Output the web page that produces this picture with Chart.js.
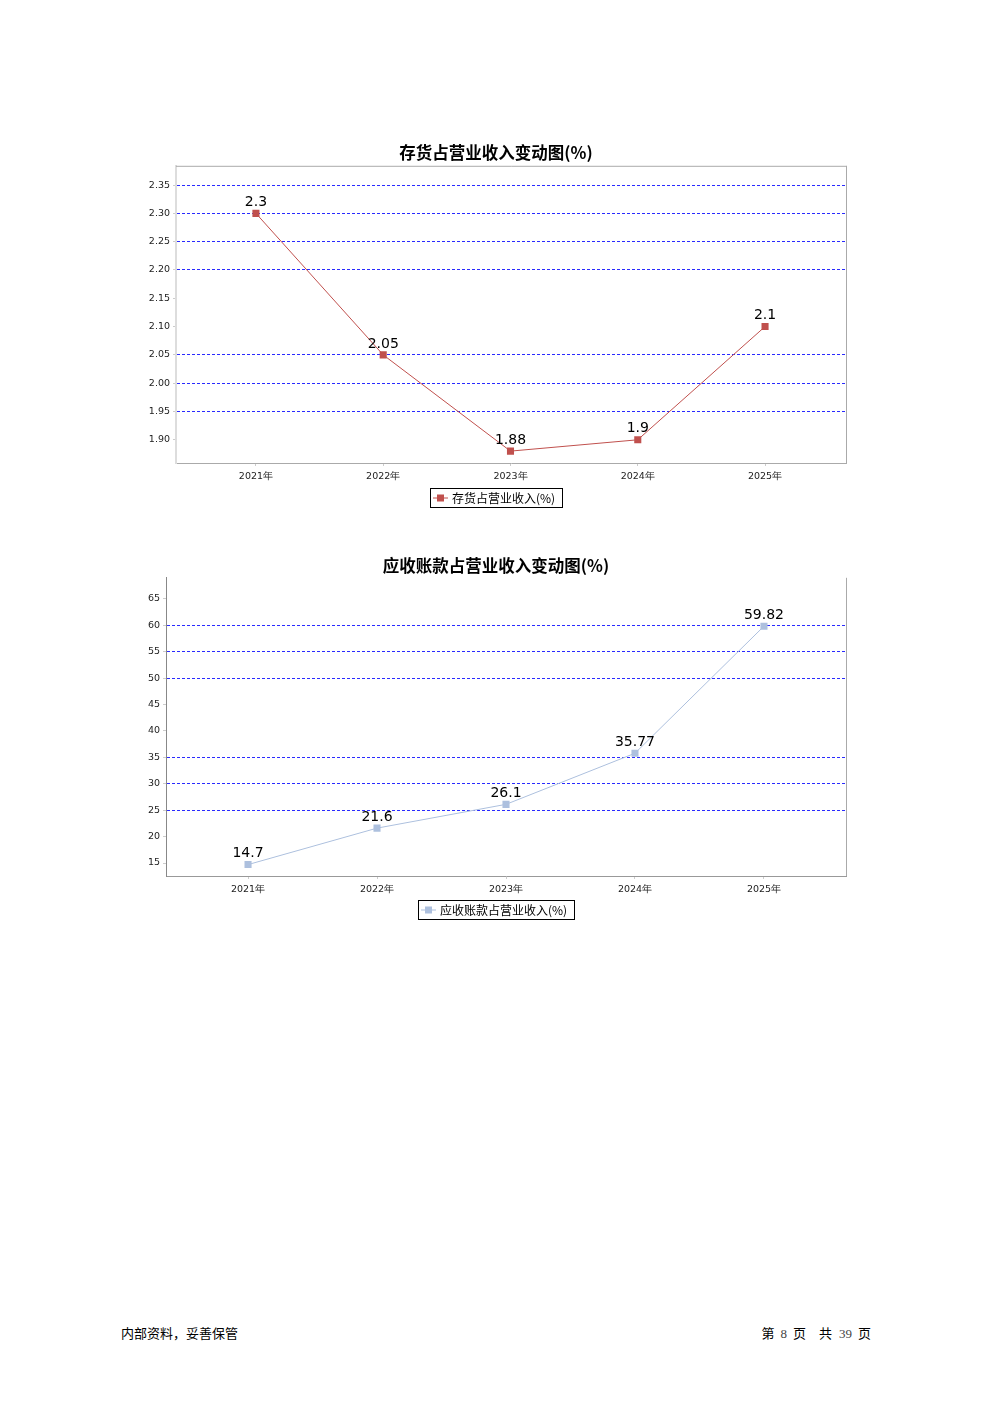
<!DOCTYPE html>
<html>
<head>
<meta charset="utf-8">
<script src="https://cdn.jsdelivr.net/npm/chart.js@4/dist/chart.umd.min.js"></script>
<style>
  body { margin: 0; background: #fff; width: 992px; height: 1403px; position: relative; overflow: hidden; }
  .wrap { position: absolute; left: 100px; width: 792px; }
  #w1 { top: 135px; height: 390px; }
  #w2 { top: 548px; height: 390px; }
  .foot { position: absolute; top: 1324px; font-family: "Noto Sans CJK SC", sans-serif; font-size: 13px; color: #000; line-height: 18px; white-space: nowrap; }
  .foot span { display: inline-block; }
  .foot .n { font-family: "Liberation Serif", serif; color: #444; font-size: 13px; }
</style>
</head>
<body>
<div class="wrap" id="w1"><canvas id="c1"></canvas></div>
<div class="wrap" id="w2"><canvas id="c2"></canvas></div>
<div class="foot" style="left:121px">内部资料，妥善保管</div>
<div class="foot" style="right:121px"><span>第</span><span class="n" style="margin-left:6px">8</span><span style="margin-left:6px">页</span><span style="margin-left:13px">共</span><span class="n" style="margin-left:7px">39</span><span style="margin-left:6px">页</span></div>

<script>
const years = ['2021年', '2022年', '2023年', '2024年', '2025年'];
const inventoryRatio = [2.3, 2.05, 1.88, 1.9, 2.1];
const receivableRatio = [14.7, 21.6, 26.1, 35.77, 59.82];
const inventoryTicks = [1.90, 1.95, 2.00, 2.05, 2.10, 2.15, 2.20, 2.25, 2.30, 2.35];
const receivableTicks = [15, 20, 25, 30, 35, 40, 45, 50, 55, 60, 65];
// gridlines that actually show up in the picture
const inventoryGrid = [1.95, 2.00, 2.05, 2.20, 2.25, 2.30, 2.35];
const receivableGrid = [25, 30, 35, 50, 55, 60];

// value labels, framed legend and the plot frame
const extras = {
    id: 'extras',
    afterDatasetsDraw(chart, args, opts) {
        const ctx = chart.ctx;
        const meta = chart.getDatasetMeta(0);
        const ds = chart.data.datasets[0];
        ctx.save();
        ctx.fillStyle = '#000';
        ctx.font = '14px "DejaVu Sans"';
        ctx.textAlign = 'center';
        ctx.textBaseline = 'bottom';
        meta.data.forEach((pt, i) => {
            ctx.fillText(String(ds.data[i].y), pt.x, pt.y - 4);
        });
        ctx.restore();
    },
    afterDraw(chart, args, opts) {
        const ctx = chart.ctx;
        const a = chart.chartArea;
        const ds = chart.data.datasets[0];
        ctx.save();
        // frame
        ctx.strokeStyle = '#aaa';
        ctx.lineWidth = 1;
        ctx.beginPath();
        if (opts.top) {
            ctx.moveTo(a.left, a.top + 0.5);
            ctx.lineTo(a.right + 0.5, a.top + 0.5);
        }
        ctx.moveTo(a.right + 0.5, a.top);
        ctx.lineTo(a.right + 0.5, a.bottom);
        ctx.stroke();

        // legend
        ctx.font = '12px "Noto Sans CJK SC"';
        const tw = ctx.measureText(ds.label).width;
        const w = Math.round(24 + tw + 5), h = 19;
        const x = Math.round(chart.width / 2 - w / 2);
        const y = Math.round(a.bottom + opts.legendGap);
        ctx.strokeStyle = '#000';
        ctx.strokeRect(x + 0.5, y + 0.5, w, h);
        ctx.strokeStyle = ds.borderColor;
        ctx.beginPath();
        ctx.moveTo(x + 3, y + h / 2 + 0.5);
        ctx.lineTo(x + 18, y + h / 2 + 0.5);
        ctx.stroke();
        ctx.fillStyle = ds.backgroundColor;
        ctx.fillRect(x + 7, y + h / 2 - 3, 7, 7);
        ctx.fillStyle = '#000';
        ctx.textBaseline = 'middle';
        ctx.fillText(ds.label, x + 22, y + h / 2 + 1);
        ctx.restore();
    }
};

function makeChart(id, cfg) {
    return new Chart(document.getElementById(id), {
        type: 'line',
        data: {
            datasets: [{
                label: cfg.label,
                data: cfg.values.map((v, i) => ({ x: i, y: v })),
                borderColor: cfg.color,
                backgroundColor: cfg.color,
                borderWidth: 1,
                tension: 0,
                pointStyle: 'rect',
                pointRadius: 5,
                pointBorderWidth: 0
            }]
        },
        options: {
            responsive: true,
            maintainAspectRatio: false,
            animation: false,
            layout: { padding: { left: 46, right: 46 } },
            plugins: {
                legend: { display: false },
                tooltip: { enabled: false },
                title: {
                    display: true,
                    text: cfg.title,
                    color: '#000',
                    font: { family: '"Noto Sans CJK SC"', size: 16.5, weight: 'bold', lineHeight: 1.2 },
                    padding: { top: 8, bottom: cfg.titleGap }
                },
                extras: { top: cfg.frameTop, legendGap: cfg.legendGap }
            },
            scales: {
                x: {
                    type: 'linear',
                    min: cfg.xMin,
                    max: cfg.xMax,
                    afterBuildTicks: s => { s.ticks = years.map((_, i) => ({ value: i })); },
                    afterFit: s => { s.height = 62; },
                    ticks: {
                        color: '#222',
                        font: { family: '"DejaVu Sans"', size: 9.5 },
                        padding: 5,
                        maxRotation: 0,
                        callback: v => years[v]
                    },
                    grid: { drawOnChartArea: false, tickLength: 3, tickColor: '#ccc' },
                    border: { color: cfg.xAxisColor, width: 1 }
                },
                y: {
                    min: cfg.yMin,
                    max: cfg.yMax,
                    afterBuildTicks: s => { s.ticks = cfg.ticks.map(v => ({ value: v })); },
                    afterFit: s => { s.width = cfg.yWidth; },
                    ticks: {
                        color: '#222',
                        font: { family: '"DejaVu Sans"', size: 9.5 },
                        padding: 3,
                        callback: v => v.toFixed(cfg.decimals)
                    },
                    grid: {
                        color: c => (c.tick && cfg.grid.some(g => Math.abs(g - c.tick.value) < 1e-6)) ? '#2a2aff' : 'rgba(0,0,0,0)',
                        lineWidth: 1,
                        tickLength: 3,
                        tickColor: '#ccc',
                        tickBorderDash: []
                    },
                    border: { color: cfg.yAxisColor, width: cfg.yAxisWidth, dash: [3, 2] }
                }
            }
        },
        plugins: [extras]
    });
}

makeChart('c1', {
    label: '存货占营业收入(%)',
    title: '存货占营业收入变动图(%)',
    values: inventoryRatio,
    color: '#c0504d',
    ticks: inventoryTicks,
    grid: inventoryGrid,
    decimals: 2,
    yMin: 1.859, yMax: 2.384,
    xMin: -0.628, xMax: 4.636,
    yWidth: 30,
    titleGap: 3,
    frameTop: true,
    legendGap: 25,
    xAxisColor: '#aaa',
    yAxisColor: '#ddd',
    yAxisWidth: 2
});

makeChart('c2', {
    label: '应收账款占营业收入(%)',
    title: '应收账款占营业收入变动图(%)',
    values: receivableRatio,
    color: '#adc0de',
    ticks: receivableTicks,
    grid: receivableGrid,
    decimals: 0,
    yMin: 12.54, yMax: 68.98,
    xMin: -0.636, xMax: 4.636,
    yWidth: 20,
    titleGap: 2,
    frameTop: false,
    legendGap: 24,
    xAxisColor: '#999',
    yAxisColor: '#888',
    yAxisWidth: 1
});
</script>
</body>
</html>
